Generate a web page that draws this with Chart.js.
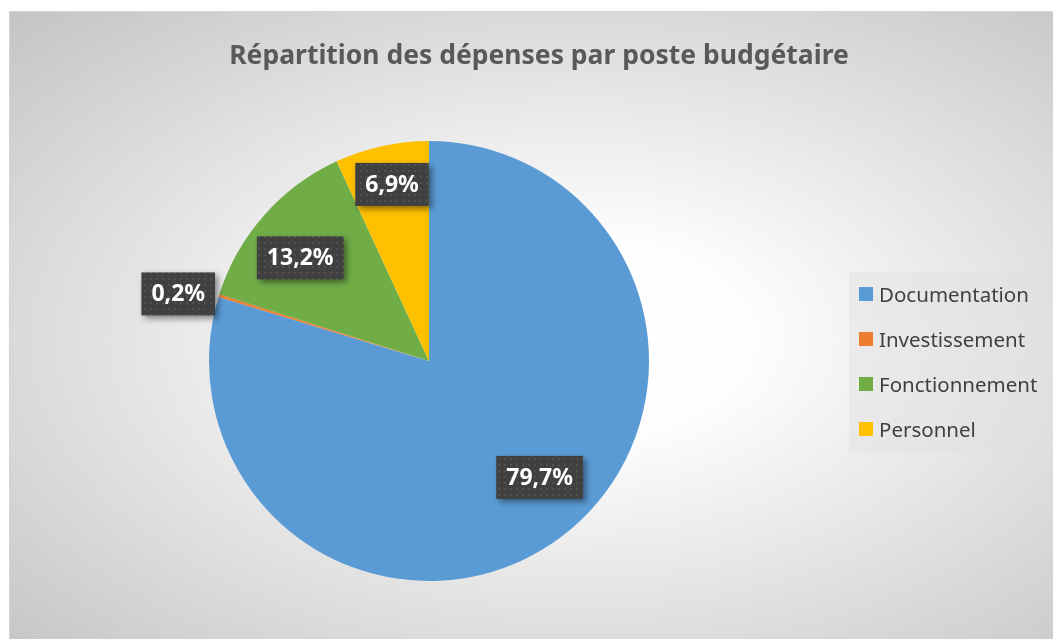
<!DOCTYPE html>
<html lang="fr">
<head>
<meta charset="utf-8">
<title>Répartition des dépenses</title>
<script src="https://cdn.jsdelivr.net/npm/chart.js@4.4.1/dist/chart.umd.min.js"></script>
<style>
    html, body { margin: 0; padding: 0; background: #ffffff; }
    body { width: 1053px; height: 639px; overflow: hidden; position: relative; }
    #chart-box {
        position: absolute; left: 9px; top: 11px; width: 1050px; height: 630px;
        border: 1px solid #d4d4d4; box-sizing: border-box;
        background: radial-gradient(ellipse farthest-corner at 54% 52%, #ffffff 0%, #fdfdfd 22%, #c4c4c4 100%);
    }
    #chart-box canvas { position: absolute; left: 0; top: 0; }
    #legend {
        position: absolute; left: 839px; top: 260px; width: 220px; height: 181px;
        background: rgba(225, 225, 225, 0.45);
        font-family: "Noto Sans", sans-serif; font-size: 20.5px; color: #404040;
    }
    #legend .item { position: absolute; left: 10px; height: 24px; display: flex; align-items: center; }
    #legend .swatch { width: 14px; height: 14px; margin-right: 6px; }
</style>
</head>
<body>
<div id="chart-box">
    <canvas id="pie" width="1050" height="628"></canvas>
    <div id="legend"></div>
</div>
<script>
const chartTitle = 'Répartition des dépenses par poste budgétaire';
const categories = ['Documentation', 'Investissement', 'Fonctionnement', 'Personnel'];
const shares = [79.7, 0.2, 13.2, 6.9];
const sliceColors = ['#5B9BD5', '#ED7D31', '#70AD47', '#FFC000'];

// label placement: [radius factor, angle shift in degrees] per slice
const labelPlacement = [[0.73, -7], [1.18, -2.3], [0.75, -2.7], [0.82, 0.6]];

const formatPct = (v) => v.toFixed(1).replace('.', ',') + '%';

// dotted dark fill for the data labels
const makePattern = (ctx) => {
    const c = document.createElement('canvas');
    c.width = 6; c.height = 6;
    const p = c.getContext('2d');
    p.fillStyle = '#404040';
    p.fillRect(0, 0, 6, 6);
    p.fillStyle = '#565656';
    p.beginPath();
    p.arc(3, 3, 1, 0, Math.PI * 2);
    p.fill();
    return ctx.createPattern(c, 'repeat');
};

// title centred on the whole chart box, not on the pie area
const boxTitle = {
    id: 'boxTitle',
    afterDraw(chart) {
        const ctx = chart.ctx;
        ctx.save();
        ctx.font = 'bold 26.5px "Noto Sans", sans-serif';
        ctx.fillStyle = '#595959';
        ctx.textAlign = 'center';
        ctx.textBaseline = 'middle';
        ctx.fillText(chartTitle, chart.width / 2 + 4, 44);
        ctx.restore();
    }
};

const boxLabels = {
    id: 'boxLabels',
    afterDatasetsDraw(chart) {
        const ctx = chart.ctx;
        const meta = chart.getDatasetMeta(0);
        const pattern = makePattern(ctx);
        ctx.save();
        ctx.font = 'bold 23px "Noto Sans", sans-serif';
        ctx.textAlign = 'center';
        ctx.textBaseline = 'middle';
        meta.data.forEach((arc, i) => {
            const { x, y, startAngle, endAngle, outerRadius } = arc.getProps(['x', 'y', 'startAngle', 'endAngle', 'outerRadius'], true);
            const [rf, shift] = labelPlacement[i];
            const mid = (startAngle + endAngle) / 2 + shift * Math.PI / 180;
            const lx = x + Math.cos(mid) * outerRadius * rf;
            const ly = y + Math.sin(mid) * outerRadius * rf;
            const text = formatPct(shares[i]);
            const w = ctx.measureText(text).width + 20;
            const h = 43;
            ctx.save();
            ctx.shadowColor = 'rgba(0,0,0,0.45)';
            ctx.shadowBlur = 6;
            ctx.shadowOffsetX = 3;
            ctx.shadowOffsetY = 3;
            ctx.fillStyle = pattern;
            ctx.fillRect(lx - w / 2, ly - h / 2, w, h);
            ctx.restore();
            ctx.fillStyle = '#ffffff';
            ctx.fillText(text, lx, ly + 1);
        });
        ctx.restore();
    }
};

const ctx = document.getElementById('pie').getContext('2d');
new Chart(ctx, {
    type: 'pie',
    data: {
        labels: categories,
        datasets: [{ data: shares, backgroundColor: sliceColors, borderWidth: 0 }]
    },
    options: {
        responsive: false,
        animation: false,
        layout: { padding: { top: 129, bottom: 59, left: 199, right: 411 } },
        plugins: {
            legend: { display: false },
            tooltip: { enabled: false },
            title: { display: false }
        }
    },
    plugins: [boxLabels, boxTitle]
});

// legend
const legend = document.getElementById('legend');
categories.forEach((name, i) => {
    const item = document.createElement('div');
    item.className = 'item';
    item.style.top = (10 + i * 45) + 'px';
    item.innerHTML = `<span class="swatch" style="background:${sliceColors[i]}"></span><span>${name}</span>`;
    legend.appendChild(item);
});
</script>
</body>
</html>
